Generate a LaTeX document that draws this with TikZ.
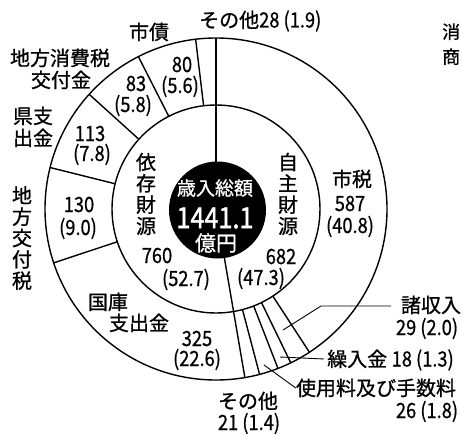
\documentclass[tikz,border=0pt]{standalone}
\usepackage{fontspec}
\setmainfont{Noto Sans CJK JP}[FakeBold=0.9,AutoFakeBold=0.9]
\newfontfamily\numf[FakeStretch=0.87,FakeBold=0.6]{Noto Sans CJK JP}
\begin{document}
\begin{tikzpicture}[x=1pt,y=-1pt,
  lbl/.style={inner sep=0pt, font=\fontsize{20}{21}\selectfont, text height=17pt, text depth=2pt},
  numl/.style={inner sep=0pt, font=\numf\fontsize{21}{21}\selectfont, text height=15pt, text depth=1pt},
  vert/.style={inner sep=0pt, align=center, font=\fontsize{20}{21.3}\selectfont},
  wl/.style={inner sep=0pt, text=white},
  ring/.style={line width=1.4pt},
  leader/.style={line width=0.9pt}]
\useasboundingbox (0,0) rectangle (462,436);
\coordinate (C) at (216,209);
% rings
\draw[ring] (C) circle (171pt);
\draw[ring] (C) circle (104pt);
\foreach \a in {-90, 80.28}
  \draw[ring] (C) -- ([shift={(\a:171)}]C);
\foreach \a in {56.88,64.08,68.76,75.24,161.64,194.04,222.12,243,263.16}
  \draw[ring] ([shift={(\a:104)}]C) -- ([shift={(\a:171)}]C);
\fill (217.5,210) circle (48.5pt);
% centre
\node[wl, font=\fontsize{19}{19}\selectfont] (t1) at (215,188) {歳入総額};
\node[wl, font=\numf\fontsize{29}{29}\selectfont\addfontfeature{FakeBold=1.5}] (t2) at (215,218) {1441.1};
\node[wl, font=\fontsize{21}{21}\selectfont] (t3) at (216,243) {億円};
% inner ring
\node[vert] (izon) at (146,194) {依\\存\\財\\源};
\node[numl] (n760) at (157,256) {760};
\node[numl] (p760) at (186,279) {(52.7)};
\node[vert] (jishu) at (288,194) {自\\主\\財\\源};
\node[numl] (n682) at (281,257) {682};
\node[numl] (p682) at (261,278) {(47.3)};
% outer ring
\node[lbl] (shizei) at (352,179) {市税};
\node[numl] (n587) at (350,204) {587};
\node[numl] (p587) at (350,226) {(40.8)};
\node[lbl] (kokko1) at (108,302) {国庫};
\node[lbl] (kokko2) at (139,323) {支出金};
\node[numl] (n325) at (197,339) {325};
\node[numl] (p325) at (197,359) {(22.6)};
\node[vert] (kofu) at (22,238) {地\\方\\交\\付\\税};
\node[numl] (n130) at (79,205) {130};
\node[numl] (p130) at (78,228) {(9.0)};
\node[lbl] (ken1) at (33,116) {県支};
\node[lbl] (ken2) at (33,138) {出金};
\node[numl] (n113) at (90,134) {113};
\node[numl] (p113) at (92,154) {(7.8)};
\node[lbl] (cho1) at (60,58) {地方消費税};
\node[lbl] (cho2) at (61,80) {交付金};
\node[numl] (n83) at (136,84) {83};
\node[numl] (p83) at (133,105) {(5.8)};
\node[lbl] (sai) at (149,32) {市債};
\node[numl] (n80) at (182,65) {80};
\node[numl] (p80) at (180,86) {(5.6)};
\node[lbl, anchor=west] (sonota1) at (199,20) {その他{\numf\fontsize{21}{21}\selectfont 28 (1.9)}};
% small segments
\node[lbl] (shu) at (431,305) {諸収入};
\node[numl] (nshu) at (427,328) {29 (2.0)};
\node[lbl, anchor=west] (kuri) at (327,359) {繰入金 {\numf\fontsize{21}{21}\selectfont 18 (1.3)}};
\node[lbl] (shiyo) at (376,388) {使用料及び手数料};
\node[numl] (nshiyo) at (427,411) {26 (1.8)};
\node[lbl] (sonota2) at (248,401) {その他};
\node[numl] (nsonota2) at (249,423) {21 (1.4)};
% leaders
\coordinate (shuA) at (283,330);
\coordinate (shuB) at (321,306);
\coordinate (shuC) at (391,306);
\draw[leader] (shuA) -- (shuB) -- (shuC);
\coordinate (kuriA) at (280,357);
\draw[leader] (kuriA) -- ([xshift=-3pt]kuri.west);
\coordinate (shiyoA) at (264,365);
\draw[leader] (shiyoA) -- (shiyo.west);
% cut-off text at right edge
\begin{scope}
\clip (0,0) rectangle (462,436);
\node[lbl, anchor=west, font=\fontsize{18}{18}\selectfont] (ed1) at (442,31) {消};
\node[lbl, anchor=west, font=\fontsize{18}{18}\selectfont] (ed2) at (442,56) {商};
\end{scope}
\end{tikzpicture}
\end{document}
